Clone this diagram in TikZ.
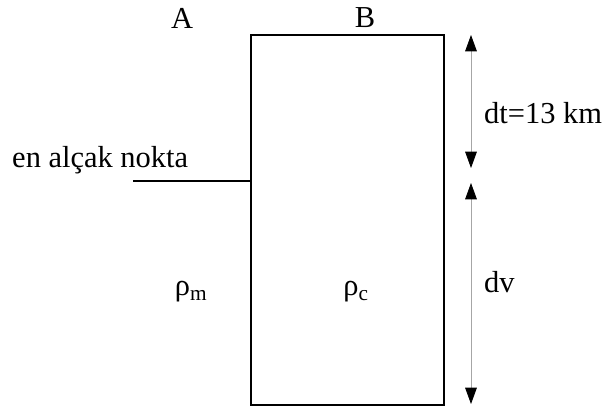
\documentclass[tikz,border=0pt]{standalone}
\usepackage{fontspec}
\setmainfont{Liberation Serif}
\usetikzlibrary{arrows.meta,positioning}
\begin{document}
\begin{tikzpicture}[x=0.03cm, y=-0.03cm,
    font=\fontsize{26}{30}\selectfont,
    blok/.style ={draw, line width=2pt, minimum width=5.79cm, minimum height=11.1cm, inner sep=0pt},
    ucu/.tip ={Triangle[width=10pt,length=14pt,fill=black,color=black]},
    olcu/.style ={draw=gray!70, line width=0.7pt, ucu-ucu},
    etiket/.style={inner sep=0pt},
  ]
  \useasboundingbox (0,0) rectangle (611,410);
  \node[blok, anchor=north west] (kabuk) at (250,34) {};

  % ust harfler
  \node[etiket] (A) at (182,18) {A};
  \node[etiket] (B) at (365,18) {B};

  % en alcak nokta
  \node[etiket, anchor=west] (nokta) at (12,160) {en alçak nokta};
  \coordinate (sol) at (133,181);
  \draw[line width=1.6pt] (sol) -- (kabuk.west |- sol);

  % yogunluklar
  \node[etiket] (rm) at (191,292) {ρ\textsubscript{m}};
  \node[etiket] (rc) at (356,292) {ρ\textsubscript{c}};

  % olcu oklari
  \coordinate (dt1) at (471,35);
  \coordinate (dt2) at (471,168);
  \coordinate (dv1) at (471,183);
  \coordinate (dv2) at (471,404);
  \draw[olcu] (dt1) -- (dt2);
  \draw[olcu] (dv1) -- (dv2);
  \node[etiket, anchor=west] (dt) at (484,113) {dt=13 km};
  \node[etiket, anchor=west] (dv) at (484,282) {dv};
\end{tikzpicture}
\end{document}
